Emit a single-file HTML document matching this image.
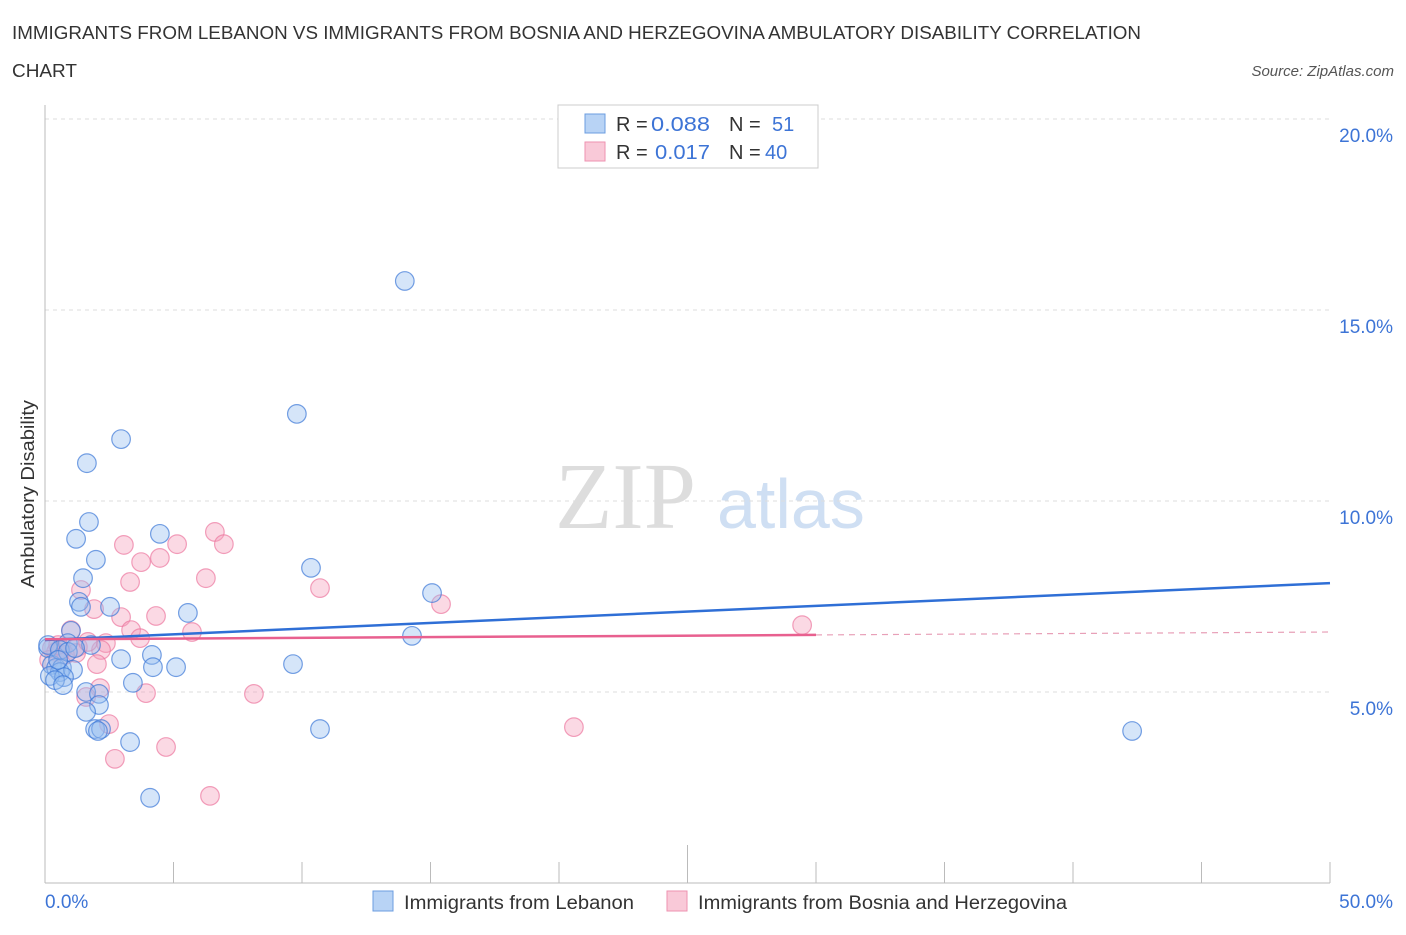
<!DOCTYPE html>
<html><head><meta charset="utf-8"><style>
body{margin:0;background:#fff;font-family:"Liberation Sans",sans-serif;}
</style></head><body>
<svg id="chart" width="1406" height="930" xmlns="http://www.w3.org/2000/svg" font-family="Liberation Sans, sans-serif">
<text x="12" y="39" font-size="18" fill="#333" textLength="1129" lengthAdjust="spacingAndGlyphs">IMMIGRANTS FROM LEBANON VS IMMIGRANTS FROM BOSNIA AND HERZEGOVINA AMBULATORY DISABILITY CORRELATION</text>
<text x="12" y="77" font-size="18" fill="#333" textLength="65" lengthAdjust="spacingAndGlyphs">CHART</text>
<text x="1394" y="76" font-size="15" fill="#555" text-anchor="end" font-style="italic">Source: ZipAtlas.com</text>
<text x="555" y="528" font-size="94" fill="#ddd" font-family="Liberation Serif, serif">ZIP</text>
<text x="717" y="528" font-size="70" fill="#cfdff3">atlas</text>
<g id="grid"></g>
<line x1="45" y1="105" x2="45" y2="883" stroke="#bbb"/>
<line x1="45" y1="883" x2="1330" y2="883" stroke="#bbb"/>
<text transform="translate(34,494) rotate(-90)" font-size="18" fill="#333" text-anchor="middle" textLength="188" lengthAdjust="spacingAndGlyphs">Ambulatory Disability</text>
<text x="45" y="908" font-size="19" fill="#3d74d6">0.0%</text>
<text x="1393" y="908" font-size="19" fill="#3d74d6" text-anchor="end">50.0%</text>
<g id="points"></g>
<g id="lines"></g>
<g>
<rect x="558" y="105" width="260" height="63" fill="#fff" stroke="#ccc"/>
<rect x="585" y="114" width="20" height="19" fill="#b8d3f5" stroke="#6b9de0"/>
<rect x="585" y="142" width="20" height="19" fill="#f9c9d8" stroke="#ee92b0"/>
<text x="616" y="131" font-size="20" fill="#333">R = <tspan fill="#3d74d6" x="651" textLength="59" lengthAdjust="spacingAndGlyphs">0.088</tspan><tspan x="729">N = </tspan><tspan x="772" fill="#3d74d6">51</tspan></text>
<text x="616" y="159" font-size="20" fill="#333">R = <tspan fill="#3d74d6" x="655" textLength="55" lengthAdjust="spacingAndGlyphs">0.017</tspan><tspan x="729">N = </tspan><tspan fill="#3d74d6" x="765">40</tspan></text>
</g>
<g>
<rect x="373" y="891" width="20" height="20" fill="#b8d3f5" stroke="#6b9de0"/>
<text x="404" y="909" font-size="19" fill="#333" textLength="230" lengthAdjust="spacingAndGlyphs">Immigrants from Lebanon</text>
<rect x="667" y="891" width="20" height="20" fill="#f9c9d8" stroke="#ee92b0"/>
<text x="698" y="909" font-size="19" fill="#333" textLength="369" lengthAdjust="spacingAndGlyphs">Immigrants from Bosnia and Herzegovina</text>
</g>
</svg>
<script>
const yTicks=[5,10,15,20];
const yTickLabels=["5.0%","10.0%","15.0%","20.0%"];
const xTicks=[0,5,10,15,20,25,30,35,40,45,50];
const blueX=[14.0,9.8,2.96,1.63,1.71,1.21,4.47,1.98,10.35,1.48,15.06,1.32,1.40,2.53,5.56,1.01,14.28,0.89,1.79,2.96,4.16,5.10,4.20,9.65,0.12,0.27,0.43,0.66,0.58,0.19,1.09,0.74,0.39,0.70,3.42,1.60,2.10,2.10,1.60,1.95,2.18,2.06,3.31,10.70,4.09,42.3,0.12,0.58,0.89,1.17,0.51];
const blueY=[15.76,12.28,11.62,10.99,9.45,9.01,9.14,8.46,8.25,7.98,7.59,7.36,7.23,7.23,7.07,6.60,6.47,6.28,6.23,5.86,5.97,5.65,5.65,5.73,6.15,5.71,5.63,5.63,5.52,5.42,5.58,5.39,5.31,5.18,5.24,5.00,4.95,4.66,4.48,4.03,4.03,3.98,3.69,4.03,2.23,3.98,6.23,6.10,6.05,6.15,5.84];
const pinkX=[6.61,6.96,3.07,5.14,4.47,3.74,6.26,3.31,10.70,1.40,1.91,2.96,4.32,15.41,3.35,3.70,5.72,1.01,2.37,1.28,2.18,0.27,0.43,0.66,0.78,1.21,0.16,2.02,2.14,3.93,8.13,1.60,2.49,20.58,4.71,2.72,6.42,29.46,0.51,1.67];
const pinkY=[9.19,8.87,8.85,8.87,8.51,8.40,7.98,7.88,7.72,7.67,7.17,6.96,6.99,7.30,6.62,6.41,6.57,6.62,6.28,6.18,6.10,6.15,6.05,6.10,5.97,6.02,5.84,5.73,5.10,4.97,4.95,4.87,4.16,4.08,3.56,3.25,2.28,6.75,6.23,6.31];
const blueTrend=[6.36,7.85];
const pinkTrend=[6.38,6.57];
const pinkSolidEnd=30;
const NS="http://www.w3.org/2000/svg";
const xs=v=>45+v*(1285/50);
const ys=v=>883-v*38.2;
function mk(tag,attrs,parent){const e=document.createElementNS(NS,tag);for(const k in attrs)e.setAttribute(k,attrs[k]);parent.appendChild(e);return e;}
const grid=document.getElementById('grid');
yTicks.forEach((t,i)=>{
  const l=mk('line',{x1:45,x2:1330,y1:ys(t),y2:ys(t),stroke:'#ddd','stroke-dasharray':'4,4'},grid);
  
  
  const tx=mk('text',{x:1393,y:ys(t)+23,'font-size':19,fill:'#3d74d6','text-anchor':'end'},grid);
  tx.textContent=yTickLabels[i];
  
  
});
xTicks.forEach(t=>{
  const l=mk('line',{x1:xs(t),x2:xs(t),y1:t===25?845:862,y2:883,stroke:'#bbb'},grid);
  
  
});
const pts=document.getElementById('points');
pinkX.forEach((x,i)=>{
  const c=mk('circle',{cx:xs(x),cy:ys(pinkY[i]),r:9.3,fill:'rgba(244,160,188,0.4)',stroke:'rgba(236,120,160,0.7)','stroke-width':1.2},pts);
  
  
});
blueX.forEach((x,i)=>{
  const c=mk('circle',{cx:xs(x),cy:ys(blueY[i]),r:9.3,fill:'rgba(150,190,240,0.4)',stroke:'rgba(60,120,215,0.7)','stroke-width':1.2},pts);
  
  
});
const ln=document.getElementById('lines');
const bl=mk('line',{x1:xs(0),y1:ys(blueTrend[0]),x2:xs(50),y2:ys(blueTrend[1]),stroke:'#2f6fd6','stroke-width':2.5},ln);


const pm=pinkTrend[0]+(pinkTrend[1]-pinkTrend[0])*pinkSolidEnd/50;
const pl=mk('line',{x1:xs(0),y1:ys(pinkTrend[0]),x2:xs(pinkSolidEnd),y2:ys(pm),stroke:'#e8608f','stroke-width':2.5},ln);


const pd=mk('line',{x1:xs(pinkSolidEnd),y1:ys(pm),x2:xs(50),y2:ys(pinkTrend[1]),stroke:'#e8a0b8','stroke-width':1.2,'stroke-dasharray':'6,5'},ln);


</script>
</body></html>
